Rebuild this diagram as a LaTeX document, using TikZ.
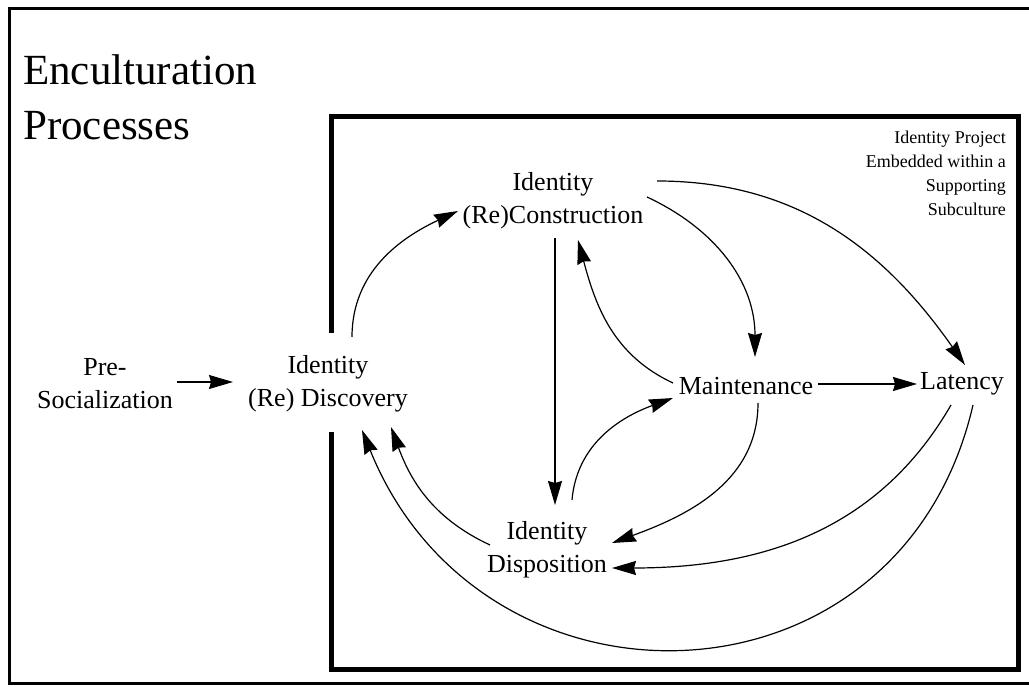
\documentclass[tikz,border=0pt]{standalone}
\usepackage{fontspec}
\setmainfont{Liberation Serif}
\usetikzlibrary{arrows.meta}

\begin{document}
\begin{tikzpicture}[x=1pt, y=1pt,
    lbl/.style={align=center, font=\fontsize{26}{33}\selectfont, inner sep=0pt},
    title/.style={anchor=base west, font=\fontsize{43}{50}\selectfont, inner sep=0pt},
    arr/.style={line width=1.2pt, -{Stealth[length=24pt, width=14pt, inset=2pt]}}]
    \useasboundingbox (0, 0) rectangle (1029, 686);
    \draw[line width=3pt] (1029, 677.5) -- (9, 677.5) -- (9, 2) -- (1029, 2);
    \draw[line width=5pt] (331, 353) -- (331, 569) -- (1018, 569) -- (1018, 16) -- (331, 16) -- (331, 254);
    \node[title] (title1) at (23, 601) {Enculturation};
    \node[title] (title2) at (23, 546) {Processes};
    \node[anchor=east, align=right, font=\fontsize{18}{24}\selectfont, inner sep=0pt] (proj) at (1006, 513) {Identity Project\\Embedded within a\\Supporting\\Subculture};
    \node[lbl] (pre) at (105, 302) {Pre-\\Socialization};
    \node[lbl] (disc) at (328, 302) {Identity\\(Re) Discovery};
    \node[lbl] (con) at (553, 485) {Identity\\(Re)Construction};
    \node[lbl] (main) at (746, 300) {Maintenance};
    \node[lbl] (lat) at (962, 302) {Latency};
    \node[lbl] (dis) at (547, 136) {Identity\\Disposition};
    \draw[arr] ([shift={(72,2)}]pre.center) -- ([shift={(-95,2)}]disc.center);
    \draw[arr] ([shift={(24,47)}]disc.center) to[out=90, in=205] ([shift={(-95,-10)}]con.center);
    \draw[arr] ([shift={(2,-37)}]con.center) -- ([shift={(8,45)}]dis.center);
    \draw[arr] ([shift={(25,50)}]dis.center) to[out=85, in=200] ([shift={(-73,-12)}]main.center);
    \draw[arr] ([shift={(-73,3)}]main.center) to[out=155, in=285] ([shift={(25,-39)}]con.center);
    \draw[arr] ([shift={(94,4)}]con.center) to[out=-25, in=90] ([shift={(9,29)}]main.center);
    \draw[arr] ([shift={(104,20)}]con.center) to[out=0, in=125] ([shift={(3,19)}]lat.center);
    \draw[arr] ([shift={(72,2)}]main.center) -- ([shift={(-45,0)}]lat.center);
    \draw[arr] ([shift={(12,-17)}]main.center) to[out=-90, in=20] ([shift={(65,7)}]dis.center);
    \draw[arr] ([shift={(-11,-21)}]lat.center) to[out=240, in=0] ([shift={(65,-18)}]dis.center);
    \draw[arr] ([shift={(11,-21)}]lat.center) to[out=257, in=292, looseness=1.35] ([shift={(34,-46)}]disc.center);
    \draw[arr] ([shift={(-57,5)}]dis.center) to[out=155, in=290] ([shift={(63,-43)}]disc.center);
\end{tikzpicture}
\end{document}
